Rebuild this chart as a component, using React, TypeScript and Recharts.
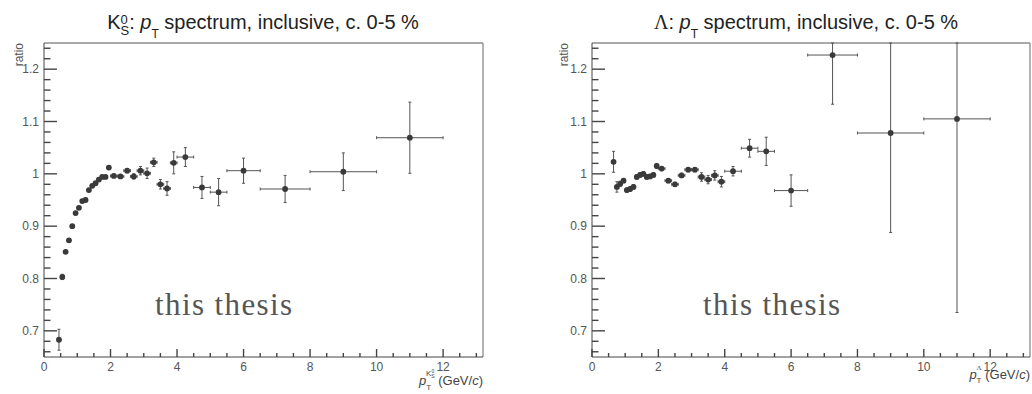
import { ScatterChart, Scatter, XAxis, YAxis, ErrorBar, ReferenceLine } from "recharts";

// K0S ratio vs pT
const ptK = [0.45, 0.55, 0.65, 0.75, 0.85, 0.95, 1.05, 1.15, 1.25, 1.35, 1.45, 1.55, 1.65, 1.75, 1.85, 1.95, 2.1, 2.3, 2.5, 2.7, 2.9, 3.1, 3.3, 3.5, 3.7, 3.9, 4.25, 4.75, 5.25, 6, 7.25, 9, 11];
const binK = [0.05, 0.05, 0.05, 0.05, 0.05, 0.05, 0.05, 0.05, 0.05, 0.05, 0.05, 0.05, 0.05, 0.05, 0.05, 0.05, 0.1, 0.1, 0.1, 0.1, 0.1, 0.1, 0.1, 0.1, 0.1, 0.1, 0.25, 0.25, 0.25, 0.5, 0.75, 1, 1];
const ratioK = [0.683, 0.803, 0.851, 0.873, 0.9, 0.925, 0.935, 0.948, 0.95, 0.969, 0.977, 0.982, 0.989, 0.994, 0.994, 1.012, 0.996, 0.995, 1.006, 0.995, 1.006, 1.001, 1.022, 0.98, 0.972, 1.021, 1.032, 0.974, 0.965, 1.006, 0.971, 1.004, 1.069];
const errK = [0.02, 0.005, 0.003, 0.003, 0.003, 0.003, 0.003, 0.003, 0.003, 0.003, 0.003, 0.003, 0.003, 0.003, 0.003, 0.003, 0.003, 0.003, 0.004, 0.005, 0.008, 0.01, 0.008, 0.009, 0.013, 0.021, 0.018, 0.021, 0.026, 0.024, 0.026, 0.036, 0.068];

// Lambda ratio vs pT
const ptL = [0.65, 0.75, 0.85, 0.95, 1.05, 1.15, 1.25, 1.35, 1.45, 1.55, 1.65, 1.75, 1.85, 1.95, 2.1, 2.3, 2.5, 2.7, 2.9, 3.1, 3.3, 3.5, 3.7, 3.9, 4.25, 4.75, 5.25, 6, 7.25, 9, 11];
const binL = [0.05, 0.05, 0.05, 0.05, 0.05, 0.05, 0.05, 0.05, 0.05, 0.05, 0.05, 0.05, 0.05, 0.05, 0.1, 0.1, 0.1, 0.1, 0.1, 0.1, 0.1, 0.1, 0.1, 0.1, 0.25, 0.25, 0.25, 0.5, 0.75, 1, 1];
const ratioL = [1.023, 0.975, 0.981, 0.987, 0.969, 0.971, 0.975, 0.994, 0.998, 1.0, 0.994, 0.995, 0.998, 1.015, 1.01, 0.987, 0.98, 0.997, 1.008, 1.008, 0.994, 0.989, 0.997, 0.985, 1.005, 1.049, 1.043, 0.968, 1.227, 1.078, 1.105];
const errL = [0.02, 0.01, 0.005, 0.004, 0.004, 0.004, 0.004, 0.004, 0.004, 0.004, 0.004, 0.004, 0.004, 0.004, 0.004, 0.004, 0.004, 0.004, 0.004, 0.004, 0.008, 0.008, 0.009, 0.01, 0.009, 0.017, 0.027, 0.03, 0.094, 0.19, 0.37];

const xMajor = [0, 2, 4, 6, 8, 10, 12];
const xTickLabels = ["0", "2", "4", "6", "8", "10", "12"];
const yMajor = [0.7, 0.8, 0.9, 1, 1.1, 1.2];
const yTickLabels = ["0.7", "0.8", "0.9", "1", "1.1", "1.2"];

const X_MAX = 13.2;
const Y_MIN = 0.65;
const Y_MAX = 1.25;

// chart geometry (each panel is 516 x 394, plot area 43..357 vertically)
const W = 516;
const H = 394;
const TOP = 43;
const XAXIS_H = 37;
const panels = [
  { left: 0, axisWidth: 44, right: 33 },
  { left: 516, axisWidth: 76, right: 2 },
];

// inward tick marks (ROOT style): every 0.5 on x, every 0.02 on y
const xTicks = Array.from({ length: 27 }, (_, i) => i * 0.5);
const yTicks = Array.from({ length: 30 }, (_, i) => Math.round((0.66 + i * 0.02) * 100) / 100);
const isMajor = (list: number[], v: number) => list.some((m) => Math.abs(m - v) < 1e-6);

// y errors are cut at the frame top, like ROOT does
const toData = (pt: number[], r: number[], e: number[], b: number[]) =>
  pt.map((x, i) => ({ x, y: r[i], ex: b[i], ey: [e[i], Math.min(e[i], Y_MAX - r[i])] }));

const kData = toData(ptK, ratioK, errK, binK);
const lData = toData(ptL, ratioL, errL, binL);

const FONT = "'Liberation Sans', Arial, sans-serif";
const SERIF = "'Liberation Serif', 'Times New Roman', serif";
const TICK = "#444";

function XTick(props: any) {
  const { x, y, payload } = props;
  const i = xMajor.findIndex((m) => Math.abs(m - payload.value) < 1e-6);
  return (
    <text x={x} y={y + 13.5} textAnchor="middle" fontSize={12} fontFamily={FONT} fill="#555">
      {xTickLabels[i]}
    </text>
  );
}

function YTick(props: any) {
  const { x, y, payload } = props;
  const i = yMajor.findIndex((m) => Math.abs(m - payload.value) < 1e-6);
  return (
    <text x={x - 5} y={y} dy="0.36em" textAnchor="end" fontSize={12} fontFamily={FONT} fill="#555">
      {yTickLabels[i]}
    </text>
  );
}

function Dot(props: any) {
  return <circle cx={props.cx} cy={props.cy} r={2.9} fill="#3a3a3a" />;
}

function Panel({ data, axisWidth, right }: { data: any[]; axisWidth: number; right: number }) {
  return (
    <ScatterChart width={W} height={H} margin={{ top: TOP, right, bottom: 0, left: 0 }}>
      <XAxis
        type="number"
        dataKey="x"
        domain={[0, X_MAX]}
        allowDataOverflow
        ticks={xMajor}
        interval={0}
        tickLine={false}
        tickSize={0}
        tickMargin={0}
        tick={XTick}
        axisLine={{ stroke: "#444" }}
        height={XAXIS_H}
      />
      <YAxis
        type="number"
        dataKey="y"
        domain={[Y_MIN, Y_MAX]}
        allowDataOverflow
        ticks={yMajor}
        interval={0}
        tickLine={false}
        tickSize={0}
        tickMargin={0}
        tick={YTick}
        axisLine={{ stroke: "#444" }}
        width={axisWidth}
      />
      <ReferenceLine y={Y_MAX} stroke="#555" />
      <ReferenceLine x={X_MAX} stroke="#999" strokeWidth={1.5} />
      <Scatter data={data} shape={Dot} isAnimationActive={false}>
        <ErrorBar dataKey="ex" direction="x" width={1.5} stroke="#555" strokeWidth={1} />
        <ErrorBar dataKey="ey" direction="y" width={1.5} stroke="#555" strokeWidth={1} />
      </Scatter>
    </ScatterChart>
  );
}

// tick marks of one frame, same linear mapping as the chart's axes
function TickMarks({ left, axisWidth, right }: { left: number; axisWidth: number; right: number }) {
  const x0 = left + axisWidth;
  const x1 = left + W - right;
  const y1 = H - XAXIS_H;
  const sx = (v: number) => x0 + (v / X_MAX) * (x1 - x0);
  const sy = (v: number) => y1 - ((v - Y_MIN) / (Y_MAX - Y_MIN)) * (y1 - TOP);
  return (
    <g>
      {xTicks.map((v) => (
        <line
          key={"x" + v}
          x1={sx(v)}
          x2={sx(v)}
          y1={y1}
          y2={y1 - (isMajor(xMajor, v) ? 8 : 4)}
          stroke={TICK}
          strokeWidth={1.4}
        />
      ))}
      {yTicks.map((v) => (
        <line
          key={"y" + v}
          x1={x0}
          x2={x0 + (isMajor(yMajor, v) ? 13 : 6.5)}
          y1={sy(v)}
          y2={sy(v)}
          stroke={TICK}
          strokeWidth={1.4}
        />
      ))}
    </g>
  );
}

export default function App() {
  return (
    <div style={{ position: "absolute", left: 0, top: 0, width: 1032, height: 394, fontFamily: FONT }}>
      <div style={{ position: "absolute", left: panels[0].left, top: 0 }}>
        <Panel data={kData} axisWidth={panels[0].axisWidth} right={panels[0].right} />
      </div>
      <div style={{ position: "absolute", left: panels[1].left, top: 0 }}>
        <Panel data={lData} axisWidth={panels[1].axisWidth} right={panels[1].right} />
      </div>
      <svg width={1032} height={394} style={{ position: "absolute", left: 0, top: 0, pointerEvents: "none" }} fontFamily={FONT}>
        {panels.map((p) => (
          <TickMarks key={p.left} left={p.left} axisWidth={p.axisWidth} right={p.right} />
        ))}
        {/* titles */}
        <text x={263} y={29} textAnchor="middle" fontSize={20} fill="#222">
          K
          <tspan fontSize={13} dy={-5}>0</tspan>
          <tspan fontSize={13} dx={-7.2} dy={11}>S</tspan>
          <tspan dy={-6}>: </tspan>
          <tspan fontStyle="italic">p</tspan>
          <tspan fontSize={12} dy={9}>T</tspan>
          <tspan dy={-9}> spectrum, inclusive, c. 0-5 %</tspan>
        </text>
        <text x={806} y={29} textAnchor="middle" fontSize={20} fill="#222">
          <tspan fontFamily={SERIF}>Λ</tspan>
          <tspan>: </tspan>
          <tspan fontStyle="italic">p</tspan>
          <tspan fontSize={12} dy={9}>T</tspan>
          <tspan dy={-9}> spectrum, inclusive, c. 0-5 %</tspan>
        </text>
        {/* y titles */}
        <text transform="translate(23,43) rotate(-90)" textAnchor="end" fontSize={12} fill="#555">ratio</text>
        <text transform="translate(568,43) rotate(-90)" textAnchor="end" fontSize={12} fill="#555">ratio</text>
        {/* x titles */}
        <text x={483} y={385} textAnchor="end" fontSize={13} fill="#444">
          <tspan fontStyle="italic">p</tspan>
          <tspan fontSize={8} dy={5}>T</tspan>
          <tspan fontSize={8} dx={-5} dy={-14}>K</tspan>
          <tspan fontSize={5} dy={-3}>0</tspan>
          <tspan fontSize={5} dx={-3} dy={5}>S</tspan>
          <tspan dy={7}> (GeV/</tspan>
          <tspan fontStyle="italic">c</tspan>
          <tspan>)</tspan>
        </text>
        <text x={1030} y={379} textAnchor="end" fontSize={13} fill="#444">
          <tspan fontStyle="italic">p</tspan>
          <tspan fontSize={8} dy={4}>T</tspan>
          <tspan fontSize={7} dx={-5} dy={-13} fontFamily={SERIF}>Λ</tspan>
          <tspan dy={9}> (GeV/</tspan>
          <tspan fontStyle="italic">c</tspan>
          <tspan>)</tspan>
        </text>
        {/* watermark */}
        <text x={155} y={315} fontSize={31} letterSpacing={1.4} fontFamily={SERIF} fill="#555">this thesis</text>
        <text x={703} y={315} fontSize={31} letterSpacing={1.4} fontFamily={SERIF} fill="#555">this thesis</text>
      </svg>
    </div>
  );
}
